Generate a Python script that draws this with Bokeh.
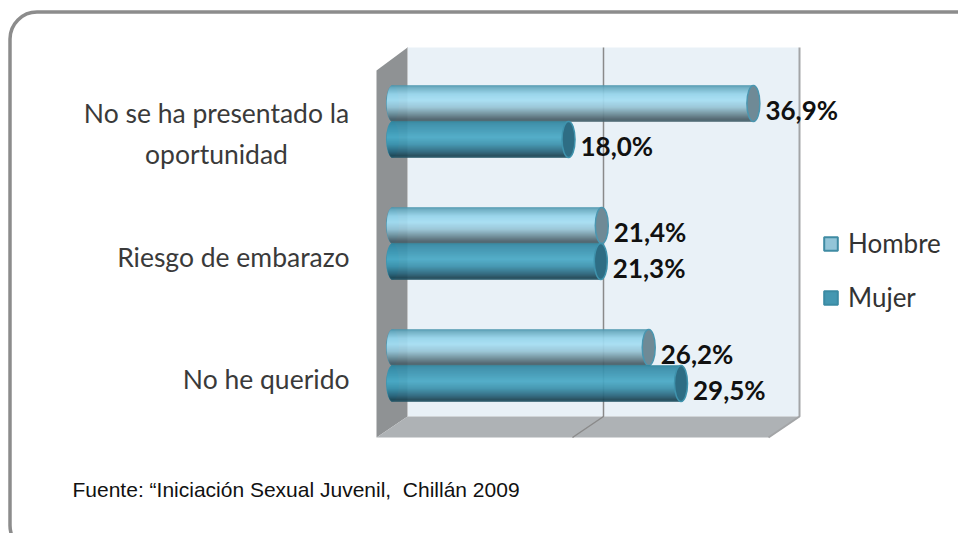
from bokeh.plotting import figure
from bokeh.embed import file_html
from bokeh.resources import INLINE
from bokeh.core.properties import value
from bokeh.models import PolyAnnotation, BoxAnnotation, Label, Legend, LegendItem
import math

categories = ["No he querido", "Riesgo de embarazo", "No se ha presentado la\noportunidad"]
hombre = [26.2, 21.4, 36.9]
mujer = [29.5, 21.3, 18.0]
series = ["Hombre", "Mujer"]
labels_h = ["26,2%", "21,4%", "36,9%"]
labels_m = ["29,5%", "21,3%", "18,0%"]
source_note = "Fuente: \u201cIniciaci\u00f3n Sexual Juvenil,\u00a0 Chill\u00e1n 2009"

W, H = 958, 533
PX = 9.78            # pixels per percent
X0 = 392             # canvas x of 0 %
ROW = 122            # pixels per category
Y0 = 365             # canvas y of first category
BAR = 36 / ROW

p = figure(width=W, height=H, output_backend="svg", toolbar_location=None,
           x_range=(-X0 / PX, (W - X0) / PX), y_range=((Y0 - H) / ROW, Y0 / ROW),
           min_border=0, outline_line_color=None, background_fill_color="white",
           border_fill_color="white")
p.axis.visible = False
p.grid.visible = False

def poly(pts, fill=None, line=None, lw=1):
    p.add_layout(PolyAnnotation(xs=[a for a, b in pts], ys=[b for a, b in pts], xs_units="canvas", ys_units="canvas",
                                fill_color=fill, fill_alpha=1 if fill else 0,
                                line_color=line, line_alpha=1 if line else 0,
                                line_width=lw, level="underlay"))

# outer rounded frame
p.add_layout(BoxAnnotation(left=9.5, right=985, top=11.5, bottom=552,
                           left_units="canvas", right_units="canvas", top_units="canvas", bottom_units="canvas",
                           fill_alpha=0, line_color="#8c8c8c", line_alpha=1, line_width=3.5,
                           border_radius=27, level="underlay"))

# 3D chart furniture
poly([(407, 47), (799, 47), (799, 416), (407, 416)], fill="#e9f1f7")
poly([(376, 70), (407, 47), (407, 416), (376, 437)], fill="#8f9294")
poly([(407, 416), (799, 416), (768, 437), (376, 437)], fill="#aeb2b5")
poly([(603, 47), (603, 416), (572, 437), (603, 416)], line="#8a8a8a", lw=1.5)
poly([(799, 47), (799, 416), (768, 437), (799, 416)], line="#a3a5a7", lw=2)
poly([(407, 47), (407, 416)], line="#c4c6c8", lw=1)

def lerp_stops(stops, t):
    for (t0, c0), (t1, c1) in zip(stops, stops[1:]):
        if t <= t1:
            f = (t - t0) / (t1 - t0)
            return "#%02x%02x%02x" % tuple(round(a + (b - a) * f) for a, b in zip(c0, c1))
    return "#%02x%02x%02x" % stops[-1][1]

STOPS_H = [(0, (70, 145, 170)), (0.06, (105, 170, 192)), (0.25, (150, 212, 234)), (0.42, (166, 222, 243)),
           (0.62, (150, 195, 212)), (0.82, (105, 135, 147)), (0.95, (75, 95, 105)), (1, (70, 100, 112))]
STOPS_M = [(0, (45, 130, 155)), (0.08, (55, 140, 168)), (0.45, (75, 170, 198)), (0.65, (60, 145, 172)),
           (0.85, (42, 100, 122)), (0.96, (30, 70, 85)), (1, (35, 85, 105))]
CAP_A = 6.5
N = 36

def cylinder(vals, offset, stops, cap, edge):
    ys = [i + offset * BAR for i in range(len(vals))]
    p.ellipse(x=[0] * len(vals), y=ys, width=CAP_A * 2, height=BAR, width_units="screen",
              fill_color=edge, line_color=None)
    left, right, y, c = [], [], [], []
    for v, yc in zip(vals, ys):
        for k in range(N):
            t = (k + 0.5) / N
            d = 2 * t - 1
            left.append(-(CAP_A - 0.8) * math.sqrt(1 - d * d) / PX)
            right.append(v)
            y.append(yc + BAR * (0.5 - t))
            c.append(lerp_stops(stops, t))
    p.hbar(y=y, left=left, right=right, height=BAR / N * 1.5, fill_color=c, line_color=None)
    p.ellipse(x=vals, y=ys, width=CAP_A * 2, height=BAR, width_units="screen",
              fill_color=cap, line_color=edge, line_width=1.5)
    return ys

ys_h = cylinder(hombre, 0.5, STOPS_H, "#6f8a96", "#4a96b0")
ys_m = cylinder(mujer, -0.5, STOPS_M, "#2e6d84", "#3f93ad")

# data labels
for vals, ys, labs in [(hombre, ys_h, labels_h), (mujer, ys_m, labels_m)]:
    p.text(x=vals, y=ys, text=labs, x_offset=12, y_offset=6, text_align="left", text_baseline="middle",
           text_font=value("Lato"), text_font_style="bold", text_font_size="26px", text_color="#111111")

# category labels
p.text(x=[0, 0], y=[0, 1], text=categories[:2], x_offset=-43, y_offset=13, text_align="right",
       text_baseline="middle", text_font=value("Lato"), text_font_size="26.5px", text_color="#3a3a3a")
p.text(x=[0], y=[2], text=categories[2:], x_offset=-176, y_offset=12, text_align="center",
       text_baseline="middle", text_line_height=1.28, text_font=value("Lato"), text_font_size="26.5px",
       text_color="#3a3a3a")

# source note
p.add_layout(Label(x=72, y=489, x_units="canvas", y_units="canvas", text=source_note, text_baseline="middle",
                   text_font="Liberation Sans", text_font_size="21px", text_color="#111111"))

# legend
r1 = p.hbar(y=[float("nan")], left=[0], right=[0], height=1, fill_color="#93c5d8", line_color="#3f8ba3", line_width=2)
r2 = p.hbar(y=[float("nan")], left=[0], right=[0], height=1, fill_color="#4497b1", line_color="#3a8aa3", line_width=2)
leg = Legend(items=[LegendItem(label=series[0], renderers=[r1]), LegendItem(label=series[1], renderers=[r2])],
             location=(822, 220), orientation="vertical", background_fill_alpha=0, border_line_alpha=0,
             padding=0, margin=0, spacing=22, glyph_width=17, glyph_height=17, label_standoff=9,
             label_height=26, label_text_font="Lato", label_text_font_size="26px", label_text_color="#333333")
p.add_layout(leg)

open("out.html", "w").write(file_html(p, INLINE))
